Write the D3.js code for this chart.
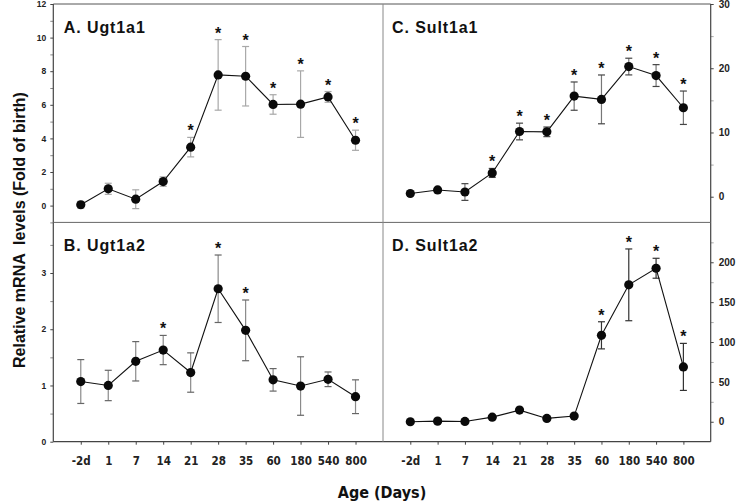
<!DOCTYPE html>
<html><head><meta charset="utf-8">
<script src="https://cdn.jsdelivr.net/npm/d3@7/dist/d3.min.js"></script>
<style>
body{margin:0;background:#fff;}
svg{display:block;}
.narrow{font-family:"Liberation Sans Narrow","Arial Narrow","DejaVu Sans Condensed",sans-serif;font-weight:bold;}
.arial{font-family:"Liberation Sans",Arial,sans-serif;font-weight:bold;}
</style></head>
<body>
<svg id="c" width="739" height="502"></svg>
<script>
const categories = ["-2d","1","7","14","21","28","35","60","180","540","800"];

const ugt1a1Mean = [0.05, 1.0, 0.38, 1.43, 3.48, 7.78, 7.7, 6.02, 6.04, 6.47, 3.89];
const ugt1a1Err  = [0.2, 0.33, 0.56, 0.28, 0.58, 2.1, 1.77, 0.58, 1.98, 0.32, 0.6];
const ugt1a1Sig  = [0,0,0,0,1,1,1,1,1,1,1];

const ugt1a2Mean = [1.07, 1.0, 1.43, 1.63, 1.23, 2.72, 1.98, 1.1, 0.99, 1.11, 0.8];
const ugt1a2Err  = [0.39, 0.27, 0.35, 0.26, 0.35, 0.6, 0.54, 0.2, 0.52, 0.13, 0.3];
const ugt1a2Sig  = [0,0,0,1,0,1,1,0,0,0,0];

const sult1a1Mean = [0.5, 1.05, 0.73, 3.7, 10.15, 10.1, 15.66, 15.15, 20.26, 18.86, 13.85];
const sult1a1Err  = [0.2, 0.3, 1.3, 0.7, 1.3, 0.75, 2.2, 3.8, 1.3, 1.7, 2.6];
const sult1a1Sig  = [0,0,0,1,1,1,1,1,1,1,1];

const sult1a2Mean = [0, 0.8, 0.4, 5.8, 14.6, 4.2, 7.1, 108.4, 171.7, 192.5, 68.8];
const sult1a2Err  = [0, 0, 0, 0, 0, 0, 0, 17, 45, 12.5, 29.5];
const sult1a2Sig  = [0,0,0,0,0,0,0,1,1,1,1];

const ugt1a1Ticks = [0,2,4,6,8,10,12];
const ugt1a2Ticks = [0,1,2,3];
const sult1a1Ticks = [0,10,20,30];
const sult1a2Ticks = [0,50,100,150,200];

const svg = d3.select("#c");
const L = 53.3, M = 383, R = 710.7, T = 4, H = 222.4, B = 441.7;

const panels = [
  {title:"A. Ugt1a1", mean:ugt1a1Mean, err:ugt1a1Err, sig:ugt1a1Sig, x0:L, x1:M, y0:H, y1:T, dom:[-1,12], ticks:ugt1a1Ticks, minor:[-1,1,3,5,7,9,11], side:"left", errColor:"#a8a8a8", capColor:"#a8a8a8", tickSize:8.5},
  {title:"B. Ugt1a2", mean:ugt1a2Mean, err:ugt1a2Err, sig:ugt1a2Sig, x0:L, x1:M, y0:B, y1:H, dom:[0,3.9], ticks:ugt1a2Ticks, minor:[0.5,1.5,2.5,3.5], side:"left", errColor:"#8a8a8a", capColor:"#666", tickSize:8.5},
  {title:"C. Sult1a1", mean:sult1a1Mean, err:sult1a1Err, sig:sult1a1Sig, x0:M, x1:R, y0:H, y1:T, dom:[-4,30], ticks:sult1a1Ticks, minor:[5,15,25], side:"right", errColor:"#777", capColor:"#444", tickSize:10},
  {title:"D. Sult1a2", mean:sult1a2Mean, err:sult1a2Err, sig:sult1a2Sig, x0:M, x1:R, y0:B, y1:H, dom:[-25,250], ticks:sult1a2Ticks, minor:[25,75,125,175,225], side:"right", errColor:"#333", capColor:"#333", tickSize:10}
];

panels.forEach((p,pi)=>{
  const x = d3.scalePoint().domain(categories).range([p.x0,p.x1]).padding(1);
  const y = d3.scaleLinear().domain(p.dom).range([p.y0,p.y1]);
  const g = svg.append("g");

  if(p.side==="left"){
    const ax = d3.axisLeft(y).tickValues(p.ticks).tickSize(3).tickPadding(4).tickFormat(d3.format("d"));
    const ag = g.append("g").attr("transform",`translate(${L},0)`).call(ax);
    ag.select(".domain").remove();
    ag.selectAll("line").attr("stroke","#444");
    ag.selectAll("text").attr("class","arial").style("font-size",p.tickSize+"px").attr("fill","#222");
    const mx = d3.axisLeft(y).tickValues(p.minor).tickSize(3).tickFormat("");
    const mg = g.append("g").attr("transform",`translate(${L},0)`).call(mx);
    mg.select(".domain").remove();
    mg.selectAll("line").attr("stroke","#888");
  } else {
    const ax = d3.axisRight(y).tickValues(p.ticks).tickSize(3).tickPadding(5).tickFormat(d3.format("d"));
    const ag = g.append("g").attr("transform",`translate(${R},0)`).call(ax);
    ag.select(".domain").remove();
    ag.selectAll("line").attr("stroke","#444");
    ag.selectAll("text").attr("class","arial").style("font-size",p.tickSize+"px").attr("fill","#222");
    const mx = d3.axisRight(y).tickValues(p.minor).tickSize(3).tickFormat("");
    const mg = g.append("g").attr("transform",`translate(${R},0)`).call(mx);
    mg.select(".domain").remove();
    mg.selectAll("line").attr("stroke","#aaa");
  }

  if(p.y0===B){
    const ax = d3.axisBottom(x).tickSize(3).tickPadding(12);
    const ag = g.append("g").attr("transform",`translate(0,${B})`).call(ax);
    ag.select(".domain").remove();
    ag.selectAll("line").attr("stroke","#444");
    ag.selectAll("text").attr("class","narrow").style("font-size","11.5px").attr("fill","#222");
  }

  const data = categories.map((c,i)=>({c, m:p.mean[i], e:p.err[i], s:p.sig[i]}));

  const eb = g.append("g");
  data.filter(d=>d.e>0).forEach(d=>{
    const cx = x(d.c);
    eb.append("line").attr("x1",cx).attr("x2",cx).attr("y1",y(d.m+d.e)).attr("y2",y(d.m-d.e)).attr("stroke",p.errColor).attr("stroke-width",1.2);
    [d.m+d.e, d.m-d.e].forEach(v=>{
      eb.append("line").attr("x1",cx-3.5).attr("x2",cx+3.5).attr("y1",y(v)).attr("y2",y(v)).attr("stroke",p.capColor).attr("stroke-width",1.2);
    });
  });

  g.append("path").datum(data)
    .attr("d", d3.line().x(d=>x(d.c)).y(d=>y(d.m)))
    .attr("fill","none").attr("stroke","#111").attr("stroke-width",1.1);

  g.selectAll("circle").data(data).join("circle")
    .attr("cx",d=>x(d.c)).attr("cy",d=>y(d.m)).attr("r",4.6).attr("fill","#0a0a0a");

  g.selectAll("text.star").data(data.filter(d=>d.s)).join("text")
    .attr("class","arial star")
    .attr("x",d=>x(d.c)).attr("y",d=>y(d.m+d.e)-1)
    .attr("text-anchor","middle").style("font-size","16px").attr("fill","#111")
    .text("*");

  g.append("text").attr("class","arial")
    .attr("x",p.x0+ (p.side==="left"?10.5:9)).attr("y",p.y1+29)
    .style("font-size","16px").style("letter-spacing","0.9px").attr("fill","#111")
    .text(p.title);
});

svg.append("line").attr("x1",L).attr("x2",R).attr("y1",T).attr("y2",T).attr("stroke","#555").attr("stroke-width",1);
svg.append("line").attr("x1",L).attr("x2",L).attr("y1",T).attr("y2",B).attr("stroke","#444").attr("stroke-width",1.2);
svg.append("line").attr("x1",R).attr("x2",R).attr("y1",T).attr("y2",B).attr("stroke","#444").attr("stroke-width",1.2);
svg.append("line").attr("x1",L).attr("x2",R).attr("y1",B).attr("y2",B).attr("stroke","#444").attr("stroke-width",1.2);
svg.append("line").attr("x1",L).attr("x2",R).attr("y1",H).attr("y2",H).attr("stroke","#666").attr("stroke-width",1);
svg.append("line").attr("x1",M).attr("x2",M).attr("y1",T).attr("y2",B).attr("stroke","#888").attr("stroke-width",1);

svg.append("text").attr("class","narrow")
  .attr("x",(L+R)/2).attr("y",498).attr("text-anchor","middle")
  .style("font-size","16px").attr("fill","#111").text("Age (Days)");
svg.append("text").attr("class","arial")
  .attr("transform","translate(25,230) rotate(-90)").attr("text-anchor","middle")
  .style("font-size","16px").style("white-space","pre").attr("xml:space","preserve")
  .attr("fill","#111").text("Relative mRNA  levels (Fold of birth)");
</script>
</body></html>
